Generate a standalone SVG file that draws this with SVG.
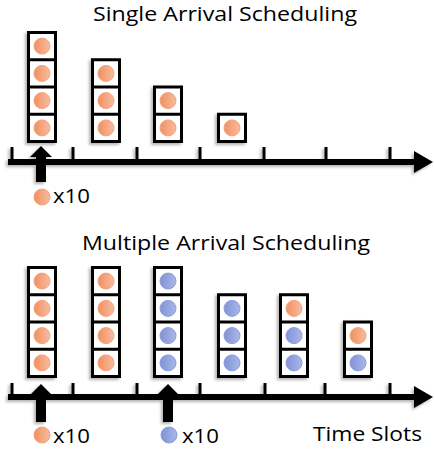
<svg xmlns="http://www.w3.org/2000/svg" width="434" height="456" viewBox="0 0 434 456">
  <defs>
    <linearGradient id="gOrange" x1="0" y1="0" x2="1" y2="0">
      <stop offset="0" stop-color="#F1905F"/>
      <stop offset="1" stop-color="#F8BC9F"/>
    </linearGradient>
    <linearGradient id="gBlue" x1="0" y1="0" x2="1" y2="0">
      <stop offset="0" stop-color="#7F93D6"/>
      <stop offset="1" stop-color="#AAB7E7"/>
    </linearGradient>
    <filter id="shadow" x="-30%" y="-30%" width="160%" height="160%">
      <feDropShadow dx="-2" dy="2" stdDeviation="1.5" flood-color="#000" flood-opacity="0.3"/>
    </filter>
    <style>
      .title { font-family: "Open Sans", "Liberation Sans", sans-serif; font-size: 20px; fill: #000; text-anchor: middle; }
      .label { font-family: "Open Sans", "Liberation Sans", sans-serif; font-size: 20px; fill: #000; }
      .box { fill: #fff; stroke: #000; stroke-width: 3; filter: url(#shadow); }
      .div { stroke: #000; stroke-width: 3; }
      .o { fill: url(#gOrange); stroke: #F3A27D; stroke-width: 1; }
      .b { fill: url(#gBlue); stroke: #8A9DDC; stroke-width: 1; }
      .axis { stroke: #000; stroke-width: 6; fill: none; }
      .tick { stroke: #000; stroke-width: 3; }
      .head { fill: #000; }
    </style>
  </defs>

  <!-- Single arrival -->
  <text class="title" x="225" y="21" textLength="264" lengthAdjust="spacingAndGlyphs">Single Arrival Scheduling</text>

  <g id="s1-stack1">
    <rect class="box" x="28.5" y="32.5" width="27" height="109"/>
    <line class="div" x1="28.5" y1="59.75" x2="55.5" y2="59.75"/>
    <line class="div" x1="28.5" y1="87" x2="55.5" y2="87"/>
    <line class="div" x1="28.5" y1="114.25" x2="55.5" y2="114.25"/>
    <circle class="o" cx="42" cy="46.1" r="8"/>
    <circle class="o" cx="42" cy="73.4" r="8"/>
    <circle class="o" cx="42" cy="100.6" r="8"/>
    <circle class="o" cx="42" cy="127.9" r="8"/>
  </g>
  <g id="s1-stack2">
    <rect class="box" x="92.5" y="59.75" width="27" height="81.75"/>
    <line class="div" x1="92.5" y1="87" x2="119.5" y2="87"/>
    <line class="div" x1="92.5" y1="114.25" x2="119.5" y2="114.25"/>
    <circle class="o" cx="106" cy="73.4" r="8"/>
    <circle class="o" cx="106" cy="100.6" r="8"/>
    <circle class="o" cx="106" cy="127.9" r="8"/>
  </g>
  <g id="s1-stack3">
    <rect class="box" x="154.5" y="87" width="27" height="54.5"/>
    <line class="div" x1="154.5" y1="114.25" x2="181.5" y2="114.25"/>
    <circle class="o" cx="168" cy="100.6" r="8"/>
    <circle class="o" cx="168" cy="127.9" r="8"/>
  </g>
  <g id="s1-stack4">
    <rect class="box" x="218.5" y="114.25" width="27" height="27.25"/>
    <circle class="o" cx="232" cy="127.9" r="8"/>
  </g>

  <g id="s1-connectors" filter="url(#shadow)">
    <line class="axis" x1="8" y1="162" x2="418" y2="162"/>
    <polygon class="head" points="414,151 433,162 414,173"/>
    <line class="tick" x1="12" y1="147" x2="12" y2="162"/>
    <line class="tick" x1="73" y1="147" x2="73" y2="162"/>
    <line class="tick" x1="137" y1="147" x2="137" y2="162"/>
    <line class="tick" x1="200" y1="147" x2="200" y2="162"/>
    <line class="tick" x1="264" y1="147" x2="264" y2="162"/>
    <line class="tick" x1="326" y1="147" x2="326" y2="162"/>
    <line class="tick" x1="390" y1="147" x2="390" y2="162"/>
    <polygon class="head" points="41,146 52,157 46,157 46,182 36,182 36,157 30,157"/>
  </g>

  <g id="s1-legend">
    <circle class="o" cx="42" cy="197" r="8"/>
    <text class="label" x="53" y="203" textLength="37" lengthAdjust="spacingAndGlyphs">x10</text>
  </g>

  <!-- Multiple arrival -->
  <text class="title" x="226" y="250" textLength="288" lengthAdjust="spacingAndGlyphs">Multiple Arrival Scheduling</text>

  <g id="s2-stack1">
    <rect class="box" x="28.5" y="267.5" width="27" height="109"/>
    <line class="div" x1="28.5" y1="294.75" x2="55.5" y2="294.75"/>
    <line class="div" x1="28.5" y1="322" x2="55.5" y2="322"/>
    <line class="div" x1="28.5" y1="349.25" x2="55.5" y2="349.25"/>
    <circle class="o" cx="42" cy="281.1" r="8"/>
    <circle class="o" cx="42" cy="308.4" r="8"/>
    <circle class="o" cx="42" cy="335.6" r="8"/>
    <circle class="o" cx="42" cy="362.9" r="8"/>
  </g>
  <g id="s2-stack2">
    <rect class="box" x="92.5" y="267.5" width="27" height="109"/>
    <line class="div" x1="92.5" y1="294.75" x2="119.5" y2="294.75"/>
    <line class="div" x1="92.5" y1="322" x2="119.5" y2="322"/>
    <line class="div" x1="92.5" y1="349.25" x2="119.5" y2="349.25"/>
    <circle class="o" cx="106" cy="281.1" r="8"/>
    <circle class="o" cx="106" cy="308.4" r="8"/>
    <circle class="o" cx="106" cy="335.6" r="8"/>
    <circle class="o" cx="106" cy="362.9" r="8"/>
  </g>
  <g id="s2-stack3">
    <rect class="box" x="154.5" y="267.5" width="27" height="109"/>
    <line class="div" x1="154.5" y1="294.75" x2="181.5" y2="294.75"/>
    <line class="div" x1="154.5" y1="322" x2="181.5" y2="322"/>
    <line class="div" x1="154.5" y1="349.25" x2="181.5" y2="349.25"/>
    <circle class="b" cx="168" cy="281.1" r="8"/>
    <circle class="b" cx="168" cy="308.4" r="8"/>
    <circle class="b" cx="168" cy="335.6" r="8"/>
    <circle class="b" cx="168" cy="362.9" r="8"/>
  </g>
  <g id="s2-stack4">
    <rect class="box" x="218.5" y="294.75" width="27" height="81.75"/>
    <line class="div" x1="218.5" y1="322" x2="245.5" y2="322"/>
    <line class="div" x1="218.5" y1="349.25" x2="245.5" y2="349.25"/>
    <circle class="b" cx="232" cy="308.4" r="8"/>
    <circle class="b" cx="232" cy="335.6" r="8"/>
    <circle class="b" cx="232" cy="362.9" r="8"/>
  </g>
  <g id="s2-stack5">
    <rect class="box" x="280.5" y="294.75" width="27" height="81.75"/>
    <line class="div" x1="280.5" y1="322" x2="307.5" y2="322"/>
    <line class="div" x1="280.5" y1="349.25" x2="307.5" y2="349.25"/>
    <circle class="o" cx="294" cy="308.4" r="8"/>
    <circle class="b" cx="294" cy="335.6" r="8"/>
    <circle class="b" cx="294" cy="362.9" r="8"/>
  </g>
  <g id="s2-stack6">
    <rect class="box" x="344.5" y="322" width="27" height="54.5"/>
    <line class="div" x1="344.5" y1="349.25" x2="371.5" y2="349.25"/>
    <circle class="o" cx="358" cy="335.6" r="8"/>
    <circle class="b" cx="358" cy="362.9" r="8"/>
  </g>

  <g id="s2-connectors" filter="url(#shadow)">
    <line class="axis" x1="8" y1="397" x2="418" y2="397"/>
    <polygon class="head" points="414,386 433,397 414,408"/>
    <line class="tick" x1="12" y1="383" x2="12" y2="397"/>
    <line class="tick" x1="73" y1="383" x2="73" y2="397"/>
    <line class="tick" x1="137" y1="383" x2="137" y2="397"/>
    <line class="tick" x1="200" y1="383" x2="200" y2="397"/>
    <line class="tick" x1="265" y1="383" x2="265" y2="397"/>
    <line class="tick" x1="325" y1="383" x2="325" y2="397"/>
    <line class="tick" x1="390" y1="383" x2="390" y2="397"/>
    <polygon class="head" points="41,384 52,395 46,395 46,422 36,422 36,395 30,395"/>
    <polygon class="head" points="168,384 179,395 173,395 173,422 163,422 163,395 157,395"/>
  </g>

  <g id="s2-legend">
    <circle class="o" cx="42" cy="435" r="8"/>
    <text class="label" x="53" y="443" textLength="37" lengthAdjust="spacingAndGlyphs">x10</text>
    <circle class="b" cx="169" cy="435" r="8"/>
    <text class="label" x="182" y="443" textLength="37" lengthAdjust="spacingAndGlyphs">x10</text>
    <text class="label" x="313" y="441" textLength="109" lengthAdjust="spacingAndGlyphs">Time Slots</text>
  </g>
</svg>
